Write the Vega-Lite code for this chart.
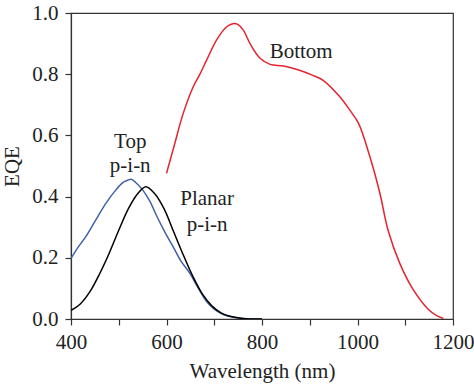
{
  "$schema": "https://vega.github.io/schema/vega-lite/v6.json",
  "width": 382,
  "height": 306,
  "autosize": "none",
  "padding": {"left": 71, "top": 13, "right": 21, "bottom": 69},
  "background": "white",
  "config": {
    "font": "Liberation Serif, DejaVu Serif, serif",
    "view": {"stroke": "#333", "strokeWidth": 1.2},
    "axis": {
      "grid": false,
      "domainColor": "#333",
      "domainWidth": 1.2,
      "tickColor": "#333",
      "tickWidth": 1.2,
      "tickSize": 6,
      "labelFont": "Liberation Serif, DejaVu Serif, serif",
      "labelFontSize": 21,
      "labelColor": "#222",
      "titleFont": "Liberation Serif, DejaVu Serif, serif",
      "titleFontSize": 21,
      "titleFontWeight": "normal",
      "titleColor": "#222"
    }
  },
  "datasets": {
    "curves": [
      {"series": "Top", "wavelength": 400, "eqe": 0.198},
      {"series": "Top", "wavelength": 415, "eqe": 0.235},
      {"series": "Top", "wavelength": 431, "eqe": 0.269},
      {"series": "Top", "wavelength": 452, "eqe": 0.324},
      {"series": "Top", "wavelength": 473, "eqe": 0.378},
      {"series": "Top", "wavelength": 494, "eqe": 0.422},
      {"series": "Top", "wavelength": 508, "eqe": 0.445},
      {"series": "Top", "wavelength": 518, "eqe": 0.453},
      {"series": "Top", "wavelength": 526, "eqe": 0.457},
      {"series": "Top", "wavelength": 535, "eqe": 0.447},
      {"series": "Top", "wavelength": 550, "eqe": 0.422},
      {"series": "Top", "wavelength": 565, "eqe": 0.385},
      {"series": "Top", "wavelength": 580, "eqe": 0.335},
      {"series": "Top", "wavelength": 598, "eqe": 0.28},
      {"series": "Top", "wavelength": 614, "eqe": 0.236},
      {"series": "Top", "wavelength": 630, "eqe": 0.19},
      {"series": "Top", "wavelength": 649, "eqe": 0.149},
      {"series": "Top", "wavelength": 665, "eqe": 0.105},
      {"series": "Top", "wavelength": 684, "eqe": 0.057},
      {"series": "Top", "wavelength": 700, "eqe": 0.032},
      {"series": "Top", "wavelength": 720, "eqe": 0.014},
      {"series": "Top", "wavelength": 740, "eqe": 0.006},
      {"series": "Top", "wavelength": 760, "eqe": 0.002},
      {"series": "Top", "wavelength": 800, "eqe": 0.0},
      {"series": "Planar", "wavelength": 400, "eqe": 0.028},
      {"series": "Planar", "wavelength": 420, "eqe": 0.05},
      {"series": "Planar", "wavelength": 440, "eqe": 0.09},
      {"series": "Planar", "wavelength": 460, "eqe": 0.148},
      {"series": "Planar", "wavelength": 480, "eqe": 0.215},
      {"series": "Planar", "wavelength": 500, "eqe": 0.29},
      {"series": "Planar", "wavelength": 520, "eqe": 0.36},
      {"series": "Planar", "wavelength": 540, "eqe": 0.41},
      {"series": "Planar", "wavelength": 557, "eqe": 0.432},
      {"series": "Planar", "wavelength": 575, "eqe": 0.41},
      {"series": "Planar", "wavelength": 595, "eqe": 0.36},
      {"series": "Planar", "wavelength": 615, "eqe": 0.285},
      {"series": "Planar", "wavelength": 635, "eqe": 0.21},
      {"series": "Planar", "wavelength": 655, "eqe": 0.14},
      {"series": "Planar", "wavelength": 675, "eqe": 0.082},
      {"series": "Planar", "wavelength": 695, "eqe": 0.043},
      {"series": "Planar", "wavelength": 715, "eqe": 0.019},
      {"series": "Planar", "wavelength": 735, "eqe": 0.008},
      {"series": "Planar", "wavelength": 760, "eqe": 0.002},
      {"series": "Planar", "wavelength": 800, "eqe": 0.0},
      {"series": "Bottom", "wavelength": 600, "eqe": 0.476},
      {"series": "Bottom", "wavelength": 615, "eqe": 0.56},
      {"series": "Bottom", "wavelength": 635, "eqe": 0.672},
      {"series": "Bottom", "wavelength": 656, "eqe": 0.759},
      {"series": "Bottom", "wavelength": 670, "eqe": 0.80},
      {"series": "Bottom", "wavelength": 684, "eqe": 0.846},
      {"series": "Bottom", "wavelength": 705, "eqe": 0.912},
      {"series": "Bottom", "wavelength": 726, "eqe": 0.955},
      {"series": "Bottom", "wavelength": 741, "eqe": 0.966},
      {"series": "Bottom", "wavelength": 750, "eqe": 0.962},
      {"series": "Bottom", "wavelength": 761, "eqe": 0.944},
      {"series": "Bottom", "wavelength": 775, "eqe": 0.90},
      {"series": "Bottom", "wavelength": 796, "eqe": 0.852},
      {"series": "Bottom", "wavelength": 817, "eqe": 0.832},
      {"series": "Bottom", "wavelength": 845, "eqe": 0.827},
      {"series": "Bottom", "wavelength": 880, "eqe": 0.812},
      {"series": "Bottom", "wavelength": 905, "eqe": 0.797},
      {"series": "Bottom", "wavelength": 928, "eqe": 0.78},
      {"series": "Bottom", "wavelength": 963, "eqe": 0.726},
      {"series": "Bottom", "wavelength": 985, "eqe": 0.68},
      {"series": "Bottom", "wavelength": 1002, "eqe": 0.64},
      {"series": "Bottom", "wavelength": 1026, "eqe": 0.53},
      {"series": "Bottom", "wavelength": 1047, "eqe": 0.41},
      {"series": "Bottom", "wavelength": 1064, "eqe": 0.29},
      {"series": "Bottom", "wavelength": 1089, "eqe": 0.18},
      {"series": "Bottom", "wavelength": 1117, "eqe": 0.095},
      {"series": "Bottom", "wavelength": 1148, "eqe": 0.032},
      {"series": "Bottom", "wavelength": 1165, "eqe": 0.012},
      {"series": "Bottom", "wavelength": 1180, "eqe": 0.002}
    ],
    "labels": [
      {"text": "Top", "wavelength": 524, "eqe": 0.579},
      {"text": "p-i-n", "wavelength": 524, "eqe": 0.499},
      {"text": "Planar", "wavelength": 685, "eqe": 0.392},
      {"text": "p-i-n", "wavelength": 685, "eqe": 0.307},
      {"text": "Bottom", "wavelength": 882, "eqe": 0.873}
    ]
  },
  "layer": [
    {
      "data": {"name": "curves"},
      "mark": {"type": "line", "strokeWidth": 1.5, "interpolate": "catmull-rom", "clip": true},
      "encoding": {
        "x": {
          "field": "wavelength",
          "type": "quantitative",
          "scale": {"domain": [400, 1200], "nice": false},
          "axis": {
            "title": "Wavelength (nm)",
            "values": [400, 500, 600, 700, 800, 900, 1000, 1100, 1200],
            "format": "d",
            "labelExpr": "datum.value % 200 === 0 ? datum.label : ''",
            "labelFlush": false,
            "labelOverlap": false,
            "labelPadding": 6,
            "titlePadding": 8
          }
        },
        "y": {
          "field": "eqe",
          "type": "quantitative",
          "scale": {"domain": [0, 1], "nice": false},
          "axis": {
            "title": "EQE",
            "values": [0, 0.1, 0.2, 0.3, 0.4, 0.5, 0.6, 0.7, 0.8, 0.9, 1.0],
            "format": ".1f",
            "labelExpr": "round(datum.value * 10) % 2 === 0 ? datum.label : ''",
            "labelFlush": false,
            "labelOverlap": false,
            "labelPadding": 7,
            "titlePadding": 9
          }
        },
        "color": {
          "field": "series",
          "type": "nominal",
          "scale": {"domain": ["Top", "Planar", "Bottom"], "range": ["#4061a8", "#000000", "#e5222f"]},
          "legend": null
        },
        "detail": {"field": "series"}
      }
    },
    {
      "data": {"name": "labels"},
      "mark": {"type": "text", "font": "Liberation Serif, DejaVu Serif, serif", "fontSize": 21, "color": "#222", "align": "center", "baseline": "middle"},
      "encoding": {
        "x": {"field": "wavelength", "type": "quantitative"},
        "y": {"field": "eqe", "type": "quantitative"},
        "text": {"field": "text"}
      }
    }
  ]
}
